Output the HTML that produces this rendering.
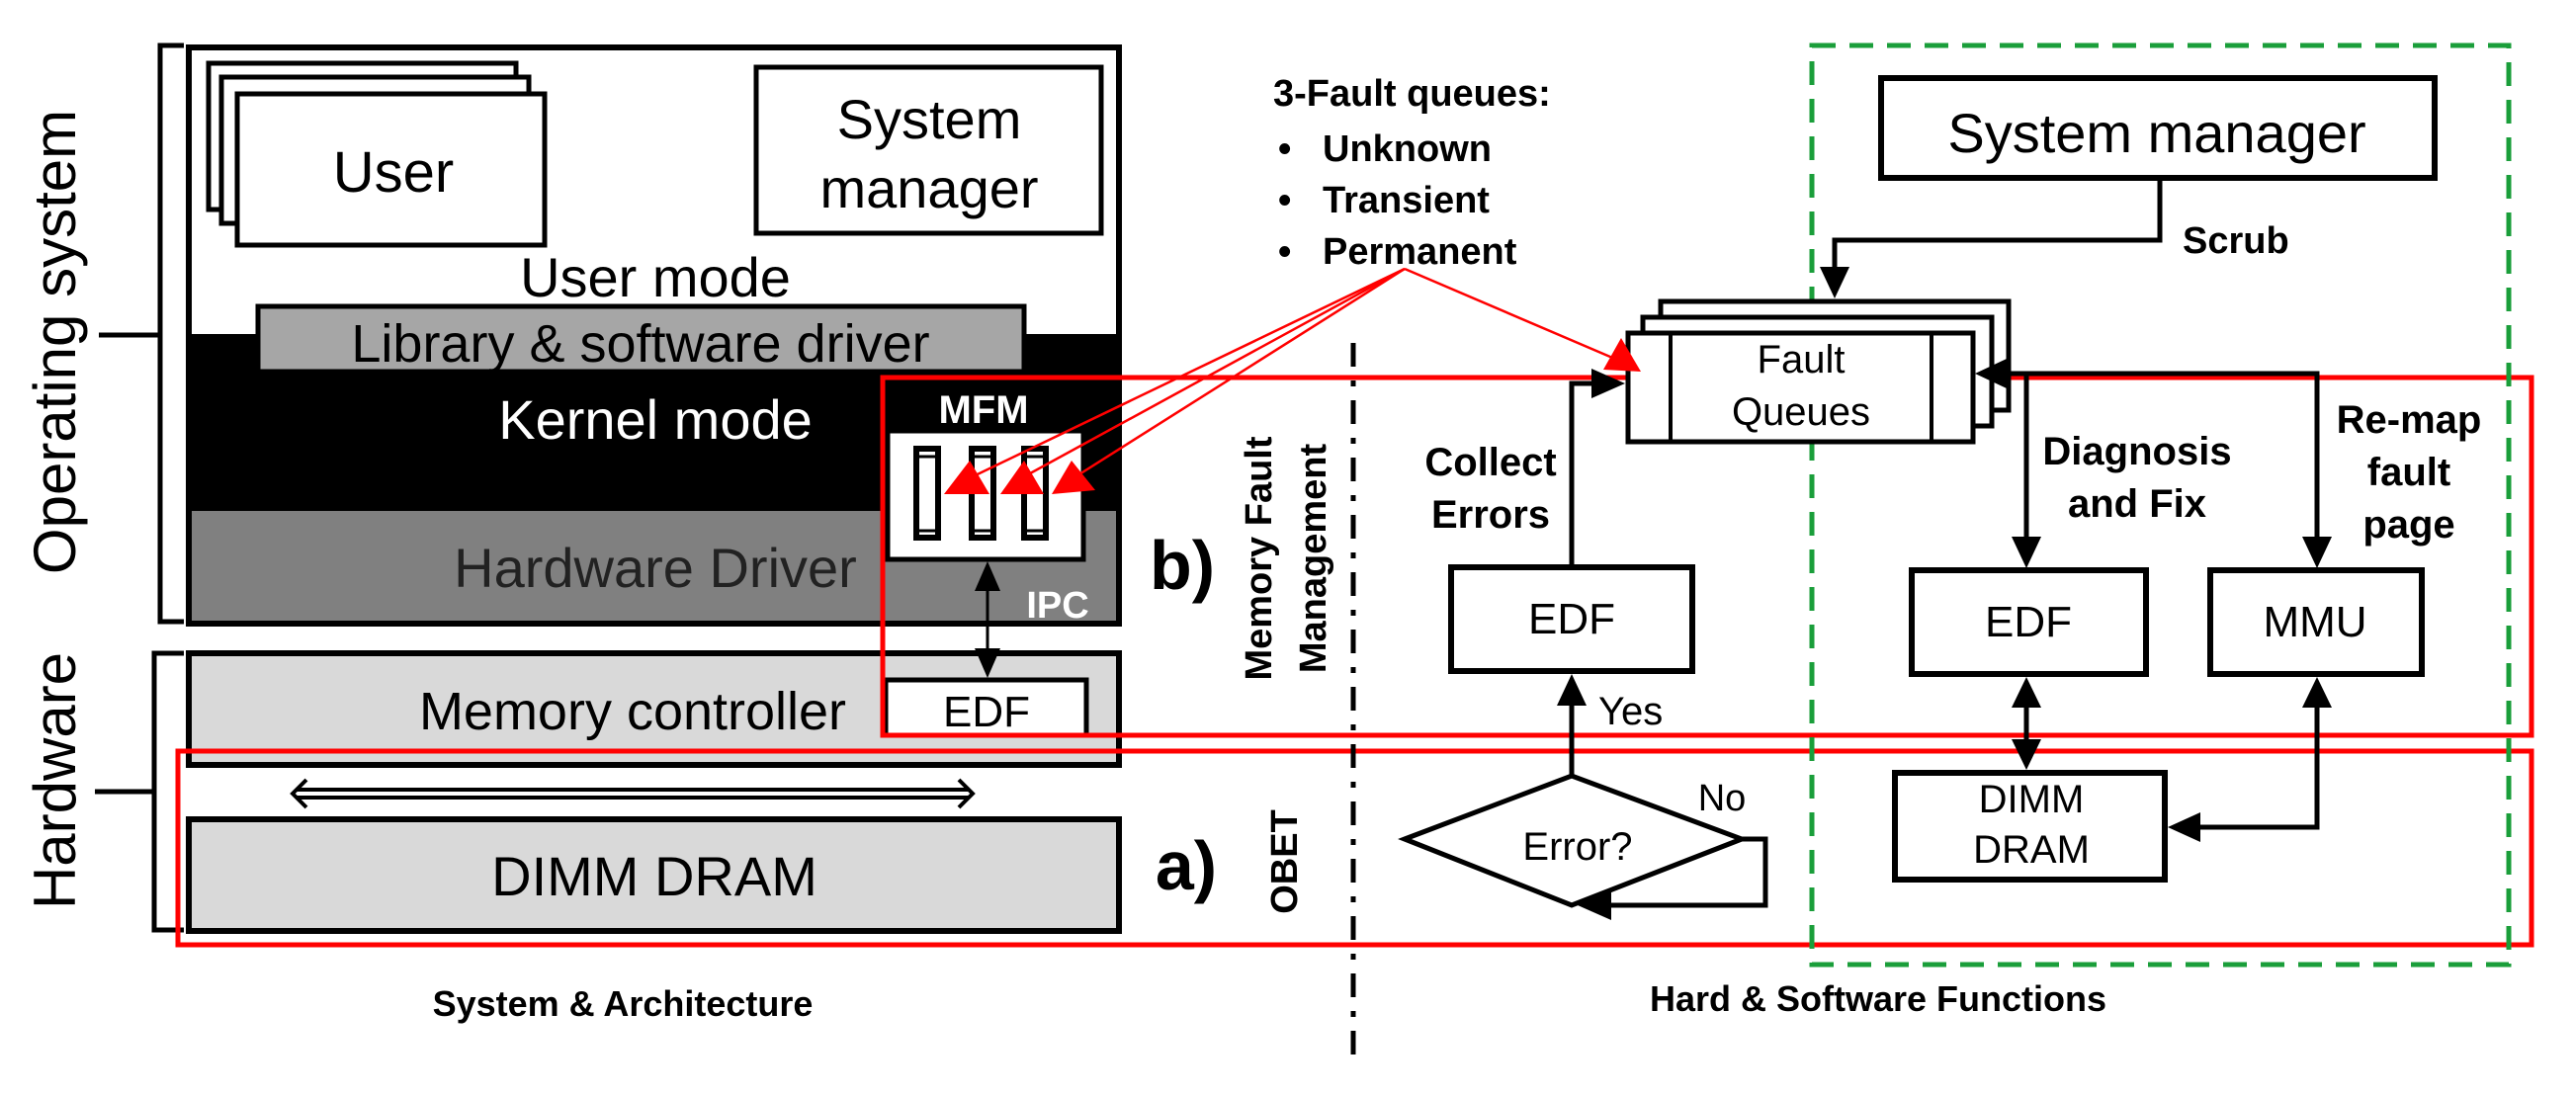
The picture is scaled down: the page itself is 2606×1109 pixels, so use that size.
<!DOCTYPE html>
<html><head><meta charset="utf-8"><style>
html,body{margin:0;padding:0;background:#fff;}
svg{display:block;font-family:"Liberation Sans",Arial,sans-serif;}
</style></head><body>
<svg width="2606" height="1109" viewBox="0 0 2606 1109" xmlns="http://www.w3.org/2000/svg">
<rect width="2606" height="1109" fill="#fff"/>

<path d="M186,46 H162 V629 H186" fill="none" stroke="#000" stroke-width="5"/>
<line x1="100" y1="339" x2="162" y2="339" stroke="#000" stroke-width="5"/>
<path d="M186,661 H156 V941 H186" fill="none" stroke="#000" stroke-width="5"/>
<line x1="96" y1="801" x2="156" y2="801" stroke="#000" stroke-width="5"/>
<text transform="translate(76,346) rotate(-90)" text-anchor="middle" font-size="60">Operating system</text>
<text transform="translate(76,790) rotate(-90)" text-anchor="middle" font-size="60">Hardware</text>

<rect x="191" y="338" width="941" height="179" fill="#000"/>
<rect x="191" y="517" width="941" height="114" fill="#808080"/>
<rect x="191" y="48" width="941" height="583" fill="none" stroke="#000" stroke-width="6"/>
<rect x="211" y="64" width="311" height="148" fill="#fff" stroke="#000" stroke-width="5"/>
<rect x="224" y="78" width="311" height="148" fill="#fff" stroke="#000" stroke-width="5"/>
<rect x="240" y="95" width="311" height="153" fill="#fff" stroke="#000" stroke-width="5"/>
<text x="398" y="194" text-anchor="middle" font-size="58">User</text>
<rect x="765" y="68" width="349" height="168" fill="#fff" stroke="#000" stroke-width="5"/>
<text x="940" y="140" text-anchor="middle" font-size="56">System</text>
<text x="940" y="210" text-anchor="middle" font-size="56">manager</text>
<text x="663" y="300" text-anchor="middle" font-size="56">User mode</text>
<rect x="261" y="310" width="775" height="66" fill="#a6a6a6" stroke="#000" stroke-width="5"/>
<text x="648" y="366" text-anchor="middle" font-size="54">Library &amp; software driver</text>
<text x="663" y="444" text-anchor="middle" font-size="56" fill="#fff">Kernel mode</text>
<text x="663" y="594" text-anchor="middle" font-size="56" fill="#222">Hardware Driver</text>
<text x="995" y="428" text-anchor="middle" font-size="40" font-weight="bold" fill="#fff">MFM</text>
<rect x="898" y="436" width="198" height="130" fill="#fff" stroke="#000" stroke-width="5"/>
<g fill="#fff" stroke="#000" stroke-width="6">
<rect x="927" y="454" width="22" height="90"/>
<rect x="983" y="454" width="22" height="90"/>
<rect x="1036" y="454" width="22" height="90"/>
</g>
<g stroke="#000" stroke-width="3">
<line x1="930" y1="462" x2="946" y2="462"/><line x1="930" y1="537" x2="946" y2="537"/>
<line x1="986" y1="462" x2="1002" y2="462"/><line x1="986" y1="537" x2="1002" y2="537"/>
<line x1="1039" y1="462" x2="1055" y2="462"/><line x1="1039" y1="537" x2="1055" y2="537"/>
</g>
<text x="1070" y="625" text-anchor="middle" font-size="38" font-weight="bold" fill="#fff">IPC</text>

<rect x="191" y="661" width="941" height="113" fill="#d9d9d9" stroke="#000" stroke-width="6"/>
<text x="640" y="738" text-anchor="middle" font-size="54">Memory controller</text>
<rect x="896" y="688" width="203" height="56" fill="#fff" stroke="#000" stroke-width="5"/>
<text x="998" y="735" text-anchor="middle" font-size="44">EDF</text>
<line x1="999" y1="590" x2="999" y2="662" stroke="#000" stroke-width="3"/>
<polygon points="986,598 1012,598 999,568" fill="#000"/>
<polygon points="986,656 1012,656 999,686" fill="#000"/>
<path d="M300,799 L980,799 M300,807 L980,807" stroke="#000" stroke-width="4"/>
<path d="M310,789 L296,803 L310,817 M970,789 L984,803 L970,817" fill="none" stroke="#000" stroke-width="4"/>
<rect x="191" y="829" width="941" height="113" fill="#d9d9d9" stroke="#000" stroke-width="6"/>
<text x="662" y="906" text-anchor="middle" font-size="56">DIMM DRAM</text>
<text x="630" y="1028" text-anchor="middle" font-size="36" font-weight="bold">System &amp; Architecture</text>

<rect x="893" y="382" width="1668" height="362" fill="none" stroke="#f00" stroke-width="5"/>
<rect x="180" y="760" width="2381" height="196" fill="none" stroke="#f00" stroke-width="5"/>
<text x="1196" y="596" text-anchor="middle" font-size="70" font-weight="bold">b)</text>
<text x="1200" y="900" text-anchor="middle" font-size="70" font-weight="bold">a)</text>
<text transform="translate(1286,565) rotate(-90)" text-anchor="middle" font-size="38" font-weight="bold">Memory Fault</text>
<text transform="translate(1341,565) rotate(-90)" text-anchor="middle" font-size="38" font-weight="bold">Management</text>
<text transform="translate(1312,872) rotate(-90)" text-anchor="middle" font-size="38" font-weight="bold">OBET</text>
<line x1="1369" y1="347" x2="1369" y2="1068" stroke="#000" stroke-width="5" stroke-dasharray="24,14,6,14"/>

<rect x="1833" y="46" width="705" height="930" fill="none" stroke="#1a9e3a" stroke-width="5" stroke-dasharray="24,14"/>

<text x="1288" y="107" font-size="38" font-weight="bold">3-Fault queues:</text>
<g font-size="38" font-weight="bold">
<text x="1293" y="163">•</text><text x="1338" y="163">Unknown</text>
<text x="1293" y="215">•</text><text x="1338" y="215">Transient</text>
<text x="1293" y="267">•</text><text x="1338" y="267">Permanent</text>
</g>

<rect x="1903" y="79" width="560" height="101" fill="#fff" stroke="#000" stroke-width="6"/>
<text x="2182" y="154" text-anchor="middle" font-size="56">System manager</text>
<path d="M2185,180 V243 H1856 V275" fill="none" stroke="#000" stroke-width="5"/>
<polygon points="1841,270 1871,270 1856,302" fill="#000"/>
<text x="2208" y="256" font-size="38" font-weight="bold">Scrub</text>

<rect x="1680" y="305" width="352" height="110" fill="#fff" stroke="#000" stroke-width="5"/>
<rect x="1662" y="321" width="353" height="110" fill="#fff" stroke="#000" stroke-width="5"/>
<rect x="1647" y="337" width="349" height="110" fill="#fff" stroke="#000" stroke-width="5"/>
<line x1="1690" y1="337" x2="1690" y2="447" stroke="#000" stroke-width="4"/>
<line x1="1954" y1="337" x2="1954" y2="447" stroke="#000" stroke-width="4"/>
<text x="1822" y="377" text-anchor="middle" font-size="40">Fault</text>
<text x="1822" y="430" text-anchor="middle" font-size="40">Queues</text>

<path d="M1590,573 V388 H1615" fill="none" stroke="#000" stroke-width="5"/>
<polygon points="1610,373 1610,403 1644,388" fill="#000"/>
<text x="1508" y="481" text-anchor="middle" font-size="40" font-weight="bold">Collect</text>
<text x="1508" y="534" text-anchor="middle" font-size="40" font-weight="bold">Errors</text>
<rect x="1468" y="574" width="244" height="105" fill="#fff" stroke="#000" stroke-width="6"/>
<text x="1590" y="641" text-anchor="middle" font-size="44">EDF</text>
<line x1="1590" y1="785" x2="1590" y2="705" stroke="#000" stroke-width="5"/>
<polygon points="1575,714 1605,714 1590,682" fill="#000"/>
<text x="1617" y="733" font-size="40">Yes</text>
<path d="M1421,849 L1590,785 L1762,849 L1590,916 Z" fill="#fff" stroke="#000" stroke-width="5"/>
<text x="1596" y="870" text-anchor="middle" font-size="40">Error?</text>
<text x="1742" y="820" text-anchor="middle" font-size="38">No</text>
<path d="M1762,849 H1786 V916 H1625" fill="none" stroke="#000" stroke-width="5"/>
<polygon points="1630,901 1630,931 1596,916" fill="#000"/>

<path d="M2344,548 V378 H2025" fill="none" stroke="#000" stroke-width="5"/>
<polygon points="2030,363 2030,393 1998,378" fill="#000"/>
<polygon points="2329,543 2359,543 2344,575" fill="#000"/>
<line x1="2050" y1="378" x2="2050" y2="548" stroke="#000" stroke-width="5"/>
<polygon points="2035,543 2065,543 2050,575" fill="#000"/>
<text x="2162" y="470" text-anchor="middle" font-size="40" font-weight="bold">Diagnosis</text>
<text x="2162" y="523" text-anchor="middle" font-size="40" font-weight="bold">and Fix</text>
<text x="2437" y="438" text-anchor="middle" font-size="40" font-weight="bold">Re-map</text>
<text x="2437" y="491" text-anchor="middle" font-size="40" font-weight="bold">fault</text>
<text x="2437" y="544" text-anchor="middle" font-size="40" font-weight="bold">page</text>
<rect x="1934" y="577" width="237" height="105" fill="#fff" stroke="#000" stroke-width="6"/>
<text x="2052" y="644" text-anchor="middle" font-size="44">EDF</text>
<rect x="2236" y="577" width="214" height="105" fill="#fff" stroke="#000" stroke-width="6"/>
<text x="2342" y="644" text-anchor="middle" font-size="44">MMU</text>
<line x1="2050" y1="705" x2="2050" y2="760" stroke="#000" stroke-width="5"/>
<polygon points="2035,716 2065,716 2050,685" fill="#000"/>
<polygon points="2035,748 2065,748 2050,779" fill="#000"/>
<rect x="1917" y="782" width="273" height="108" fill="#fff" stroke="#000" stroke-width="6"/>
<text x="2055" y="822" text-anchor="middle" font-size="40">DIMM</text>
<text x="2055" y="873" text-anchor="middle" font-size="40">DRAM</text>
<path d="M2344,705 V837 H2220" fill="none" stroke="#000" stroke-width="5"/>
<polygon points="2329,716 2359,716 2344,685" fill="#000"/>
<polygon points="2226,822 2226,852 2193,837" fill="#000"/>
<text x="1900" y="1023" text-anchor="middle" font-size="36" font-weight="bold">Hard &amp; Software Functions</text>

<g stroke="#f00" stroke-width="2.5" fill="none">
<line x1="1421" y1="272" x2="968" y2="490"/>
<line x1="1421" y1="272" x2="1022" y2="490"/>
<line x1="1421" y1="272" x2="1076" y2="490"/>
<line x1="1421" y1="272" x2="1650" y2="370"/>
</g>
<g fill="#f00">
<path d="M955,500 L981,466 L1001,500 Z"/>
<path d="M1012,500 L1036,466 L1056,500 Z"/>
<path d="M1064,500 L1084,466 L1108,496 Z"/>
<path d="M1660,376 L1622,374 L1640,342 Z"/>
</g>
</svg>
</body></html>
